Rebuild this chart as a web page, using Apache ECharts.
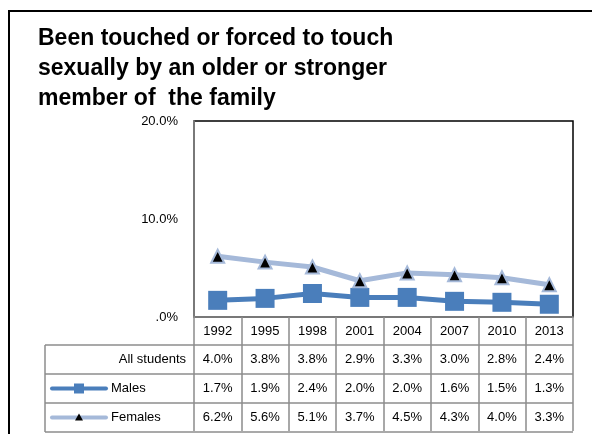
<!DOCTYPE html>
<html>
<head>
<meta charset="utf-8">
<script src="https://cdn.jsdelivr.net/npm/echarts@6/dist/echarts.min.js"></script>
<style>
html,body{margin:0;padding:0;background:#fff;}
#main{width:592px;height:434px;}
</style>
</head>
<body>
<div id="main"></div>
<script>
// data
var years = ["1992", "1995", "1998", "2001", "2004", "2007", "2010", "2013"];
var allStudents = [4.0, 3.8, 3.8, 2.9, 3.3, 3.0, 2.8, 2.4];
var males = [1.7, 1.9, 2.4, 2.0, 2.0, 1.6, 1.5, 1.3];
var females = [6.2, 5.6, 5.1, 3.7, 4.5, 4.3, 4.0, 3.3];
var rowNames = ["All students", "Males", "Females"];

var FONT = "Liberation Sans";
var lineGray = "#8c8c8c";
var maleColor = "#4a7ebb";
var femaleColor = "#a5b9d9";

var chart = echarts.init(document.getElementById("main"));
var option = {
    animation: false,
    textStyle: {fontFamily: FONT},
    title: {
        text: "Been touched or forced to touch\nsexually by an older or stronger\nmember of  the family",
        left: 33,
        top: 19,
        textStyle: {fontSize: 23, fontWeight: "bold", color: "#000", lineHeight: 30, fontFamily: FONT}
    },
    grid: {left: 194, top: 121, right: 19, bottom: 117, show: true, borderColor: "#000", borderWidth: 1.5},
    xAxis: {
        type: "category",
        data: years,
        boundaryGap: true,
        axisLine: {lineStyle: {color: lineGray, width: 1.5}},
        axisTick: {show: true, length: 114, lineStyle: {color: lineGray, width: 1.5}},
        axisLabel: {color: "#000", fontSize: 13, margin: 8}
    },
    yAxis: {
        type: "value",
        min: 0,
        max: 20,
        interval: 10,
        splitLine: {show: false},
        axisTick: {show: false},
        axisLine: {show: true, lineStyle: {color: lineGray, width: 1.5}},
        axisLabel: {
            color: "#000",
            fontSize: 13,
            margin: 16,
            formatter: function(v){ return v === 0 ? ".0%" : v.toFixed(1) + "%"; }
        }
    },
    series: [
        {
            name: "Males",
            type: "line",
            data: males,
            symbol: "rect",
            symbolSize: 19,
            lineStyle: {color: maleColor, width: 5},
            itemStyle: {color: maleColor}
        },
        {
            name: "Females",
            type: "line",
            data: females,
            symbol: "triangle",
            symbolSize: 13,
            lineStyle: {color: femaleColor, width: 5},
            itemStyle: {color: "#000", borderColor: femaleColor, borderWidth: 2}
        }
    ]
};
chart.setOption(option);

// data table under the plot, placed from the axis scale
var c0 = chart.convertToPixel({xAxisIndex: 0}, 0);
var colW = chart.convertToPixel({xAxisIndex: 0}, 1) - c0;
var yBase = chart.convertToPixel({yAxisIndex: 0}, 0);
var tableLeft = 45;
var tableRight = chart.convertToPixel({xAxisIndex: 0}, years.length - 1) + colW / 2;
var labelRight = c0 - colW / 2;
var headH = 28, rowH = 29;
var rows = [allStudents, males, females];

var g = [];
g.push({type: "rect", shape: {x: 9, y: 11, width: 700, height: 500}, style: {fill: "none", stroke: "#000", lineWidth: 2}});
for (var r = 0; r <= rows.length; r++) {
    var yy = yBase + headH + r * rowH;
    g.push({type: "line", shape: {x1: tableLeft, y1: yy, x2: tableRight, y2: yy}, style: {stroke: lineGray, lineWidth: 1.5}});
}
g.push({type: "line", shape: {x1: tableLeft, y1: yBase + headH, x2: tableLeft, y2: yBase + headH + rows.length * rowH}, style: {stroke: lineGray, lineWidth: 1.5}});

for (var r = 0; r < rows.length; r++) {
    var cy = yBase + headH + r * rowH + rowH / 2;
    for (var i = 0; i < years.length; i++) {
        g.push({type: "text", x: c0 + i * colW, y: cy,
            style: {text: rows[r][i].toFixed(1) + "%", fontSize: 13, fontFamily: FONT, fill: "#000", align: "center", verticalAlign: "middle"}});
    }
    if (r === 0) {
        g.push({type: "text", x: labelRight - 8, y: cy,
            style: {text: rowNames[r], fontSize: 13, fontFamily: FONT, fill: "#000", align: "right", verticalAlign: "middle"}});
    } else {
        var col = r === 1 ? maleColor : femaleColor;
        g.push({type: "line", shape: {x1: 52, y1: cy, x2: 106, y2: cy}, style: {stroke: col, lineWidth: 4, lineCap: "round"}});
        if (r === 1) {
            g.push({type: "rect", shape: {x: 74, y: cy - 5, width: 10, height: 10}, style: {fill: maleColor}});
        } else {
            g.push({type: "polygon", shape: {points: [[79, cy - 4], [83, cy + 3], [75, cy + 3]]}, style: {fill: "#000"}});
        }
        g.push({type: "text", x: 111, y: cy,
            style: {text: rowNames[r], fontSize: 13, fontFamily: FONT, fill: "#000", align: "left", verticalAlign: "middle"}});
    }
}
chart.setOption({graphic: g});
</script>
</body>
</html>
